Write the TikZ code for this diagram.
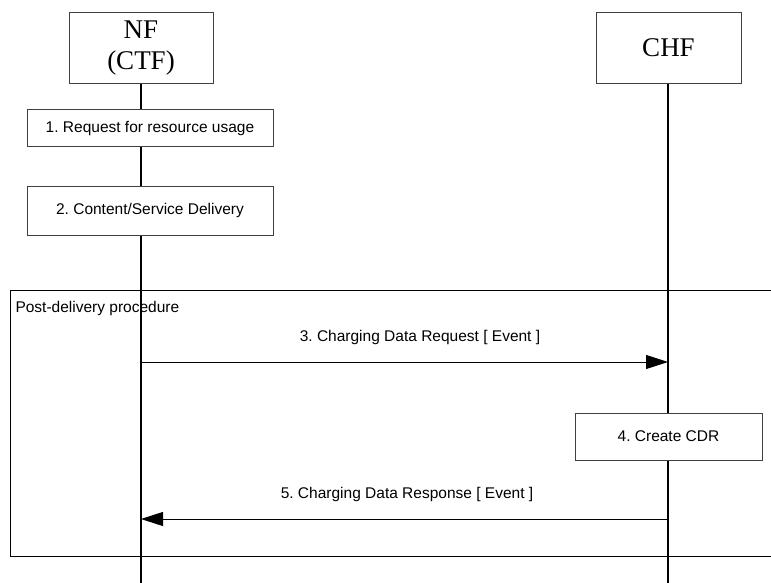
\documentclass[tikz,border=0pt]{standalone}
\usepackage{fontspec}
\setmainfont{Liberation Sans}
\newfontfamily\entityfont{Liberation Serif}
\usetikzlibrary{arrows.meta}
\definecolor{boxline}{gray}{0.25}
\frenchspacing

\tikzset{
  entity/.style={draw=boxline, fill=white, line width=1pt, minimum height=71pt,
    align=center, font=\entityfont\fontsize{27}{31}\selectfont},
  stepbox/.style={draw=boxline, fill=white, line width=1pt,
    font=\fontsize{15.5}{18}\selectfont},
  lifeline/.style={line width=1.6pt},
  msg/.style={line width=0.9pt, -{Triangle[length=22pt, width=14pt]}},
  lbl/.style={font=\fontsize{15.5}{18}\selectfont}
}

\begin{document}
\begin{tikzpicture}[x=1pt, y=-1pt]
  \useasboundingbox (0, 0) rectangle (771, 583);

  % frame of the post-delivery part
  \draw [line width=1pt] (771, 290) -- (10, 290) -- (10, 556) -- (771, 556);
  \node [lbl, anchor=west] (post) at (12, 308) {Post-delivery procedure};

  \node [entity, minimum width=144pt] (nf) at (141, 48) {NF\\(CTF)};
  \node [entity, minimum width=145pt] (chf) at (668.5, 48) {CHF};

  \coordinate (nfend) at (141, 583);
  \coordinate (chfend) at (668, 583);
  \draw [lifeline] (nf.south) -- (nfend);
  \draw [lifeline] (chf.south -| chfend) -- (chfend);

  \node [stepbox, minimum width=246pt, minimum height=37pt] (req) at (150, 128.5)
  {1. Request for resource usage};
  \node [stepbox, minimum width=246pt, minimum height=49pt] (delivery) at (150, 210.5)
  {2. Content/Service Delivery};
  \node [stepbox, minimum width=187pt, minimum height=47pt] (cdr) at (668.5, 436.5)
  {4. Create CDR};

  % messages between the two lifelines
  \coordinate (reqfrom) at (141, 362);
  \coordinate (reqto) at (668, 362);
  \draw [msg] (reqfrom) -- (reqto);
  \node [lbl] (reqlbl) at (420, 337) {3. Charging Data Request [ Event ]};

  \coordinate (respfrom) at (668, 519);
  \coordinate (respto) at (141, 519);
  \draw [msg] (respfrom) -- (respto);
  \node [lbl] (resplbl) at (407, 494) {5. Charging Data Response [ Event ]};
\end{tikzpicture}
\end{document}
